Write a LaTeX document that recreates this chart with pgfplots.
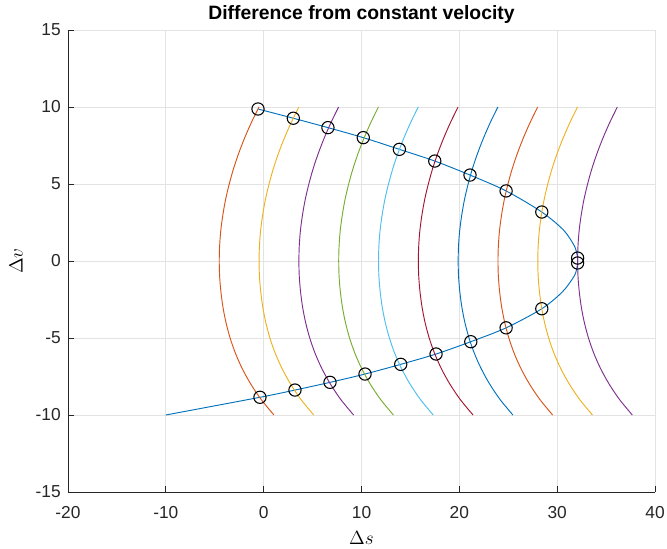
\documentclass[border=0pt]{standalone}
\usepackage{fontspec}
\setmainfont{Liberation Sans}
\usepackage{pgfplots}
\pgfplotsset{compat=1.18}
\definecolor{mA}{rgb}{0,0.447,0.741}
\definecolor{mB}{rgb}{0.850,0.325,0.098}
\definecolor{mC}{rgb}{0.929,0.694,0.125}
\definecolor{mD}{rgb}{0.494,0.184,0.556}
\definecolor{mE}{rgb}{0.466,0.674,0.188}
\definecolor{mF}{rgb}{0.301,0.745,0.933}
\definecolor{mG}{rgb}{0.635,0.078,0.184}
\definecolor{axgray}{rgb}{0.15,0.15,0.15}
\begin{document}
\begin{tikzpicture}
\begin{axis}[
  scale only axis,
  width=440.25pt, height=346.5pt,
  xmin=-20, xmax=40, ymin=-15, ymax=15,
  xtick={-20,-10,...,40}, ytick={-15,-10,...,15},
  axis x line*=bottom, axis y line*=left,
  axis line style={axgray, line width=0.6pt},
  tick style={axgray, line width=0.6pt},
  tick align=inside, major tick length=4.3pt,
  grid=major,
  major grid style={gray!22, line width=0.6pt},
  /pgf/number format/assume math mode=true,
  ticklabel style={font=\fontsize{13}{15}\selectfont, text=axgray},
  xticklabel style={anchor=north, inner sep=0pt, yshift=-10.5pt},
  yticklabel style={anchor=east, inner sep=0pt, xshift=-5.25pt},
  title={\bfseries Difference from constant velocity},
  title style={font=\fontsize{14.5}{16}\selectfont, at={(axis description cs:0.5,1)}, anchor=base, yshift=1.6pt, inner sep=0pt},
  xlabel={$\Delta s$},
  ylabel={$\Delta v$},
  xlabel style={font=\fontsize{14.3}{16}\selectfont, at={(axis description cs:0.5,0)}, anchor=base, yshift=-39pt, inner sep=0pt},
  ylabel style={font=\fontsize{14.3}{16}\selectfont, at={(axis description cs:0,0.5)}, anchor=base, yshift=34pt, inner sep=0pt},
  every axis plot/.append style={line width=0.7pt},
  clip=false,
]
% blue trajectory
\addplot[mA, smooth] coordinates {
(-10,-10) (-0.38,-8.85) (3.20,-8.38) (6.78,-7.88) (10.36,-7.34) (14.01,-6.71)
(17.62,-6.04) (21.17,-5.24) (24.78,-4.34) (28.43,-3.10) (30.54,-2.0) (31.72,-1.0)
(32.0,-0.5) (32.09,-0.13) (32.09,0.19) (32.0,0.5) (31.74,1.0) (30.66,2.0)
(28.43,3.18) (24.78,4.55) (21.09,5.58) (17.49,6.49) (13.87,7.25) (10.18,8.01)
(6.57,8.66) (3.03,9.27) (-0.58,9.87)};
% arcs
\addplot[mB, smooth] coordinates {
(-0.48,10) (-1.25,9) (-1.94,8) (-2.55,7) (-3.08,6) (-3.52,5) (-3.89,4) (-4.17,3) (-4.38,2) (-4.50,1) (-4.54,0)
(-4.50,-1) (-4.37,-2) (-4.16,-3) (-3.85,-4) (-3.43,-5) (-2.88,-6) (-2.18,-7) (-1.31,-8) (-0.25,-9) (1.05,-10)};
\addplot[mC, smooth] coordinates {
(3.59,10) (2.82,9) (2.13,8) (1.52,7) (0.99,6) (0.55,5) (0.18,4) (-0.10,3) (-0.31,2) (-0.43,1) (-0.47,0)
(-0.43,-1) (-0.30,-2) (-0.09,-3) (0.22,-4) (0.64,-5) (1.19,-6) (1.89,-7) (2.76,-8) (3.82,-9) (5.12,-10)};
\addplot[mD, smooth] coordinates {
(7.66,10) (6.89,9) (6.20,8) (5.59,7) (5.06,6) (4.62,5) (4.25,4) (3.97,3) (3.76,2) (3.64,1) (3.60,0)
(3.64,-1) (3.77,-2) (3.98,-3) (4.29,-4) (4.71,-5) (5.26,-6) (5.96,-7) (6.83,-8) (7.89,-9) (9.19,-10)};
\addplot[mE, smooth] coordinates {
(11.73,10) (10.96,9) (10.27,8) (9.66,7) (9.13,6) (8.69,5) (8.32,4) (8.04,3) (7.83,2) (7.71,1) (7.67,0)
(7.71,-1) (7.84,-2) (8.05,-3) (8.36,-4) (8.78,-5) (9.33,-6) (10.03,-7) (10.90,-8) (11.96,-9) (13.26,-10)};
\addplot[mF, smooth] coordinates {
(15.80,10) (15.03,9) (14.34,8) (13.73,7) (13.20,6) (12.76,5) (12.39,4) (12.11,3) (11.90,2) (11.78,1) (11.74,0)
(11.78,-1) (11.91,-2) (12.12,-3) (12.43,-4) (12.85,-5) (13.40,-6) (14.10,-7) (14.97,-8) (16.03,-9) (17.33,-10)};
\addplot[mG, smooth] coordinates {
(19.87,10) (19.10,9) (18.41,8) (17.80,7) (17.27,6) (16.83,5) (16.46,4) (16.18,3) (15.97,2) (15.85,1) (15.81,0)
(15.85,-1) (15.98,-2) (16.19,-3) (16.50,-4) (16.92,-5) (17.47,-6) (18.17,-7) (19.04,-8) (20.10,-9) (21.40,-10)};
\addplot[mA, smooth] coordinates {
(23.94,10) (23.17,9) (22.48,8) (21.87,7) (21.34,6) (20.90,5) (20.53,4) (20.25,3) (20.04,2) (19.92,1) (19.88,0)
(19.92,-1) (20.05,-2) (20.26,-3) (20.57,-4) (20.99,-5) (21.54,-6) (22.24,-7) (23.11,-8) (24.17,-9) (25.47,-10)};
\addplot[mB, smooth] coordinates {
(28.01,10) (27.24,9) (26.55,8) (25.94,7) (25.41,6) (24.97,5) (24.60,4) (24.32,3) (24.11,2) (23.99,1) (23.95,0)
(23.99,-1) (24.12,-2) (24.33,-3) (24.64,-4) (25.06,-5) (25.61,-6) (26.31,-7) (27.18,-8) (28.24,-9) (29.54,-10)};
\addplot[mC, smooth] coordinates {
(32.08,10) (31.31,9) (30.62,8) (30.01,7) (29.48,6) (29.04,5) (28.67,4) (28.39,3) (28.18,2) (28.06,1) (28.02,0)
(28.06,-1) (28.19,-2) (28.40,-3) (28.71,-4) (29.13,-5) (29.68,-6) (30.38,-7) (31.25,-8) (32.31,-9) (33.61,-10)};
\addplot[mD, smooth] coordinates {
(36.15,10) (35.38,9) (34.69,8) (34.08,7) (33.55,6) (33.11,5) (32.74,4) (32.46,3) (32.25,2) (32.13,1) (32.09,0)
(32.13,-1) (32.26,-2) (32.47,-3) (32.78,-4) (33.20,-5) (33.75,-6) (34.45,-7) (35.32,-8) (36.38,-9) (37.68,-10)};
% circles
\addplot[only marks, mark=o, mark size=4.6pt, black, mark options={line width=0.8pt}] coordinates {
(-0.38,-8.85) (3.20,-8.38) (6.78,-7.88) (10.36,-7.34) (14.01,-6.71) (17.62,-6.04)
(21.17,-5.24) (24.78,-4.34) (28.43,-3.10) (32.09,-0.13) (32.09,0.19)
(28.43,3.18) (24.78,4.55) (21.09,5.58) (17.49,6.49) (13.87,7.25) (10.18,8.01)
(6.57,8.66) (3.03,9.27) (-0.58,9.87)};
\end{axis}
\pgfresetboundingbox
\path (current axis.south west) +(-51pt,-42.75pt) (current axis.north east) +(9pt,22.5pt);
\end{tikzpicture}
\end{document}
